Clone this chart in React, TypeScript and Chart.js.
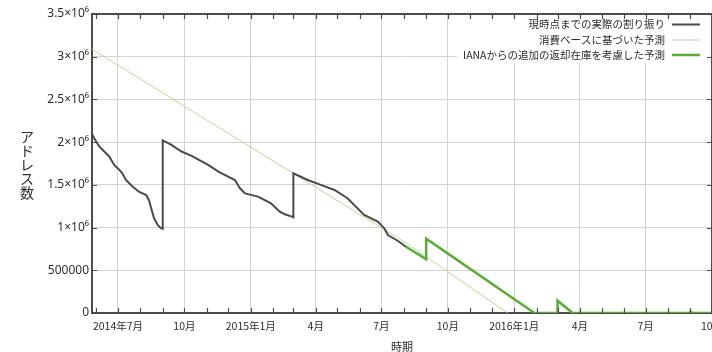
import React, { useEffect, useRef } from 'react';
import { Chart, registerables } from 'chart.js';

Chart.register(...registerables);

const FONT = "'Noto Sans CJK JP', 'Noto Sans', sans-serif";
const NUM_FONT = "'Noto Sans', 'Noto Sans CJK JP', sans-serif";

// ---- data ----
const xStart = '2014-05-26';
const xEnd = '2016-10-01';

const actualDates = [
  '2014-05-26', '2014-05-29', '2014-06-05', '2014-06-12', '2014-06-19', '2014-06-26',
  '2014-07-03', '2014-07-07', '2014-07-12', '2014-07-21', '2014-07-30', '2014-08-09',
  '2014-08-13', '2014-08-16', '2014-08-20', '2014-08-25', '2014-08-29', '2014-09-01',
  '2014-09-01', '2014-09-13', '2014-09-27', '2014-10-11', '2014-11-03', '2014-11-17',
  '2014-12-10', '2014-12-17', '2014-12-24', '2015-01-11', '2015-01-29', '2015-02-10',
  '2015-02-17', '2015-02-27', '2015-03-01', '2015-03-01', '2015-03-21', '2015-04-08',
  '2015-04-27', '2015-05-15', '2015-06-07', '2015-06-26', '2015-07-05', '2015-07-10',
  '2015-07-24', '2015-08-04',
];
const actualValues = [
  2100000, 2045000, 1950000, 1890000, 1830000, 1730000,
  1675000, 1636000, 1557000, 1480000, 1420000, 1380000,
  1320000, 1226000, 1108000, 1030000, 995000, 985000,
  2020000, 1967000, 1890000, 1840000, 1733000, 1654000,
  1557000, 1460000, 1400000, 1362000, 1284000, 1186000,
  1156000, 1128000, 1120000, 1636000, 1557000, 1500000,
  1440000, 1343000, 1148000, 1070000, 990000, 913000,
  843000, 775000,
];

const consumptionDates = ['2014-05-26', '2015-08-04', '2015-12-23'];
const consumptionValues = [3088000, 820000, 0];

const ianaDates = [
  '2015-08-04', '2015-09-01', '2015-09-01', '2016-01-29', '2016-03-01', '2016-03-01',
  '2016-03-22', '2016-09-01', '2016-09-01', '2016-09-05', '2016-10-01',
];
const ianaValues = [775000, 630000, 870000, 0, 0, 144000, 0, 0, 12000, 0, 0];

const seriesLabels = [
  '現時点までの実際の割り振り',
  '消費ベースに基づいた予測',
  'IANAからの追加の返却在庫を考慮した予測',
];

const xTickDates = [
  '2014-07-01', '2014-10-01', '2015-01-01', '2015-04-01', '2015-07-01',
  '2015-10-01', '2016-01-01', '2016-04-01', '2016-07-01', '2016-10-01',
];
const xTickLabels = [
  '2014年7月', '10月', '2015年1月', '4月', '7月', '10月', '2016年1月', '4月', '7月', '10月',
];
const yTickValues = [0, 500000, 1000000, 1500000, 2000000, 2500000, 3000000, 3500000];
const yTickLabels = ['0', '500000', '1×10⁶', '1.5×10⁶', '2×10⁶', '2.5×10⁶', '3×10⁶', '3.5×10⁶'];
const yTitle = 'アドレス数';
const xTitle = '時期';

// ---- styles ----
const ACTUAL = '#4b4b4b';
const CONS = '#b5da96';
const IANA = '#5aac36';
const GRID = '#d4d4d4';
const AXIS = '#4e4b49';
const TEXT = '#2e2e2e';

const DAY = 86400000;
const toDay = (s: string) =>
  Math.round(Date.UTC(+s.slice(0, 4), +s.slice(5, 7) - 1, +s.slice(8, 10)) / DAY);

const xTickDays = xTickDates.map(toDay);
const monthTickDays: number[] = [];
{
  let y = 2014;
  let m = 5;
  while (y < 2016 || (y === 2016 && m <= 9)) {
    monthTickDays.push(Date.UTC(y, m, 1) / DAY);
    m++;
    if (m > 11) { m = 0; y++; }
  }
}

const pts = (dates: string[], vals: number[]) => dates.map((d, i) => ({ x: toDay(d), y: vals[i] }));

const decor = {
  id: 'decor',
  afterDraw(chart: any) {
    const { ctx, chartArea: a, scales } = chart;
    const xs = scales.x;
    const ys = scales.y;
    ctx.save();

    // legend (opaque box, top right)
    ctx.font = `10.5px ${FONT}`;
    const textRight = a.right - 47;
    const rowY = [24.5, 40, 55];
    const widths = seriesLabels.map((t) => ctx.measureText(t).width);
    const boxLeft = textRight - Math.max(...widths) - 6;
    ctx.fillStyle = '#ffffff';
    ctx.fillRect(boxLeft, a.top + 1, a.right - boxLeft - 1, 48);
    chart.data.datasets.forEach((ds: any, i: number) => {
      ctx.fillStyle = TEXT;
      ctx.textAlign = 'right';
      ctx.textBaseline = 'middle';
      ctx.fillText(ds.label, textRight, rowY[i]);
      ctx.strokeStyle = ds.borderColor;
      ctx.lineWidth = ds.borderWidth;
      ctx.beginPath();
      ctx.moveTo(a.right - 40, rowY[i]);
      ctx.lineTo(a.right - 12, rowY[i]);
      ctx.stroke();
    });

    // frame top / right
    ctx.strokeStyle = AXIS;
    ctx.lineWidth = 2;
    ctx.beginPath();
    ctx.moveTo(a.left, a.top);
    ctx.lineTo(a.right, a.top);
    ctx.moveTo(a.right, a.top);
    ctx.lineTo(a.right, a.bottom);
    ctx.stroke();

    // inward ticks
    ctx.lineWidth = 1.2;
    ctx.beginPath();
    monthTickDays.forEach((d) => {
      const x = Math.round(xs.getPixelForValue(d)) + 0.5;
      ctx.moveTo(x, a.bottom);
      ctx.lineTo(x, a.bottom - 5);
      ctx.moveTo(x, a.top);
      ctx.lineTo(x, a.top + 5);
    });
    yTickValues.forEach((v) => {
      const y = Math.round(ys.getPixelForValue(v)) + 0.5;
      ctx.moveTo(a.left, y);
      ctx.lineTo(a.left + 5, y);
      ctx.moveTo(a.right, y);
      ctx.lineTo(a.right - 5, y);
    });
    ctx.stroke();

    // vertical (upright) y title
    ctx.fillStyle = TEXT;
    ctx.font = `14px ${FONT}`;
    ctx.textAlign = 'center';
    ctx.textBaseline = 'middle';
    const chars = Array.from(yTitle);
    const cy = (a.top + a.bottom) / 2 + 1;
    const step = 14;
    chars.forEach((c, i) => {
      ctx.fillText(c, 27, cy + (i - (chars.length - 1) / 2) * step);
    });
    ctx.restore();
  },
};

export default function App() {
  const ref = useRef<HTMLCanvasElement | null>(null);

  useEffect(() => {
    if (!ref.current) return;
    const chart = new Chart(ref.current, {
      type: 'line',
      data: {
        datasets: [
          {
            label: seriesLabels[0],
            data: pts(actualDates, actualValues),
            borderColor: ACTUAL,
            borderWidth: 2,
            pointRadius: 0,
            order: 0,
          },
          {
            label: seriesLabels[1],
            data: pts(consumptionDates, consumptionValues),
            borderColor: CONS,
            borderWidth: 1,
            pointRadius: 0,
            order: 2,
          },
          {
            label: seriesLabels[2],
            data: pts(ianaDates, ianaValues),
            borderColor: IANA,
            borderWidth: 2.5,
            pointRadius: 0,
            order: 1,
          },
        ] as any,
      },
      options: {
        animation: false,
        responsive: false,
        devicePixelRatio: 1,
        layout: { padding: { top: 14, right: 0, bottom: 0, left: 0 } },
        plugins: { legend: { display: false }, tooltip: { enabled: false } },
        elements: { line: { tension: 0, borderJoinStyle: 'miter' } },
        scales: {
          x: {
            type: 'linear',
            min: toDay(xStart),
            max: toDay(xEnd),
            afterBuildTicks: (scale: any) => {
              scale.ticks = monthTickDays.map((v) => ({ value: v }));
            },
            afterFit: (scale: any) => {
              scale.height = 39;
              scale.paddingLeft = 0;
              scale.paddingRight = 0;
            },
            ticks: {
              autoSkip: false,
              maxRotation: 0,
              padding: 7,
              color: TEXT,
              font: { family: FONT, size: 10.5 },
              callback: (value: any) => {
                const i = xTickDays.indexOf(Number(value));
                return i >= 0 ? xTickLabels[i] : '';
              },
            },
            grid: {
              drawTicks: false,
              lineWidth: 1,
              color: (c: any) =>
                c.tick && xTickDays.indexOf(c.tick.value) >= 0 ? GRID : 'rgba(0,0,0,0)',
            },
            border: { display: true, color: AXIS, width: 2 },
            title: {
              display: true,
              text: xTitle,
              color: TEXT,
              padding: 0,
              font: { family: FONT, size: 11, lineHeight: 1 },
            },
          },
          y: {
            type: 'linear',
            min: 0,
            max: 3500000,
            afterBuildTicks: (scale: any) => {
              scale.ticks = yTickValues.map((v) => ({ value: v }));
            },
            afterFit: (scale: any) => {
              scale.width = 92;
              scale.paddingTop = 0;
              scale.paddingBottom = 0;
            },
            ticks: {
              padding: 3,
              color: TEXT,
              font: { family: NUM_FONT, size: 12 },
              callback: (value: any) => {
                const i = yTickValues.indexOf(Number(value));
                return i >= 0 ? yTickLabels[i] : '';
              },
            },
            grid: { drawTicks: false, color: GRID, lineWidth: 1 },
            border: { display: true, color: AXIS, width: 2 },
          },
        },
      },
      plugins: [decor],
    } as any);
    return () => chart.destroy();
  }, []);

  return (
    <div style={{ position: 'absolute', left: 0, top: 0, width: 712, height: 352, background: '#fff' }}>
      <canvas ref={ref} width={712} height={352} />
    </div>
  );
}
